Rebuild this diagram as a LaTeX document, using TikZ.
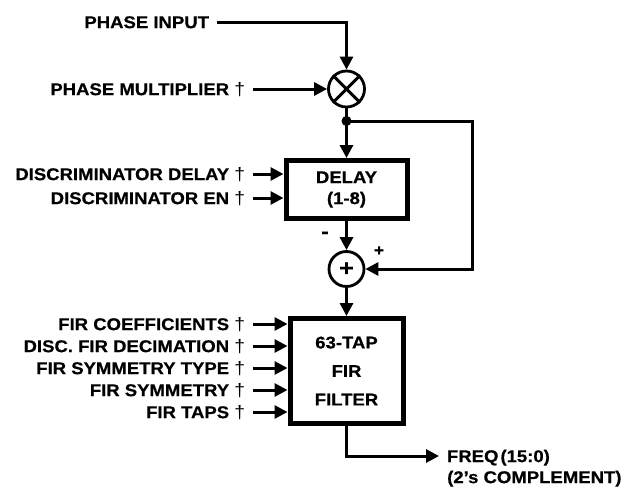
\documentclass[tikz,border=0pt]{standalone}
\usepackage{fontspec}
\setmainfont{Liberation Sans Bold}[FakeStretch=1.09, FakeBold=0.6]
\newfontfamily\regfont{Liberation Sans}[FakeStretch=1.07]
\newcommand{\dagmark}{{\regfont\fontsize{18}{18}\selectfont\dag}}
\usetikzlibrary{arrows.meta}

\tikzset{
  sig/.style={anchor=east, inner sep=0pt, outer xsep=8pt, text height=12.2pt, text depth=0pt},
  wire/.style={line width=3pt},
  arr/.style={wire, -{Triangle[length=13pt,width=13pt]}},
  blk/.style={draw, line width=5pt, inner sep=0pt, align=center},
  op/.style={draw, circle, line width=2.8pt, minimum size=35pt, inner sep=0pt}
}

\begin{document}
\begin{tikzpicture}[x=1pt, y=-1pt, font=\fontsize{17}{20}\selectfont]
\useasboundingbox (0,0) rectangle (623,490);
% mixer stage
\node[sig] (pin) at (217,22) {PHASE INPUT};
\node[sig] (pmul) at (253,89) {PHASE MULTIPLIER \dagmark};
\node[op, minimum size=36pt] (mul) at (346.5,89) {};
\draw[wire] (mul.north west) -- (mul.south east) (mul.north east) -- (mul.south west);
\draw[arr] (pin.east) -| (mul.north);
\draw[arr] (pmul.east) -- (mul.west);
\coordinate (jn) at (346.5,121);
\fill (jn) circle (5pt);
\draw[wire] (mul.south) -- (jn);
% delay and difference
\node[blk, minimum width=121pt, minimum height=58pt,
  font=\fontsize{17}{21}\selectfont] (delay) at (346.5,189.5) {DELAY\\(1-8)};
\node[sig] (ddel) at (253,174) {DISCRIMINATOR DELAY \dagmark};
\node[sig] (den) at (253,198) {DISCRIMINATOR EN \dagmark};
\draw[arr] (ddel.east) -- (ddel.east -| delay.west);
\draw[arr] (den.east) -- (den.east -| delay.west);
\draw[arr] (jn) -- (delay.north);
\node[op, font=\fontsize{23}{24}\selectfont] (add) at (346.5,269) {+};
\node[font=\fontsize{21}{22}\selectfont] (minus) at (325,235) {-};
\node[font=\fontsize{16}{18}\selectfont] (plus) at (379,251) {+};
\coordinate (fb) at (472,269);
\draw[arr] (delay.south) -- (add.north);
\draw[arr] (jn) -| (fb) -- (add.east);
% fir filter
\node[blk, minimum width=113pt, minimum height=105pt,
  font=\fontsize{17}{28.5}\selectfont] (fir) at (346.5,371) {63-TAP\\FIR\\FILTER};
\draw[arr] (add.south) -- (fir.north);
\foreach \y/\lab [count=\i] in {324/{FIR COEFFICIENTS}, 346/{DISC. FIR DECIMATION},
    368/{FIR SYMMETRY TYPE}, 390/{FIR SYMMETRY}, 412/{FIR TAPS}} {
  \node[sig] (f\i) at (253,\y) {\lab\ \dagmark};
  \draw[arr] (f\i.east) -- (f\i.east -| fir.west);
}
% output
\node[sig, anchor=west] (freq) at (439,456) {FREQ\kern2pt(15:0)};
\node[anchor=west, inner sep=0pt, text height=12.2pt, text depth=0pt] (cmpl) at (447,477) {(2’s COMPLEMENT)};
\draw[arr] (fir.south) |- (freq.west);
\end{tikzpicture}
\end{document}
